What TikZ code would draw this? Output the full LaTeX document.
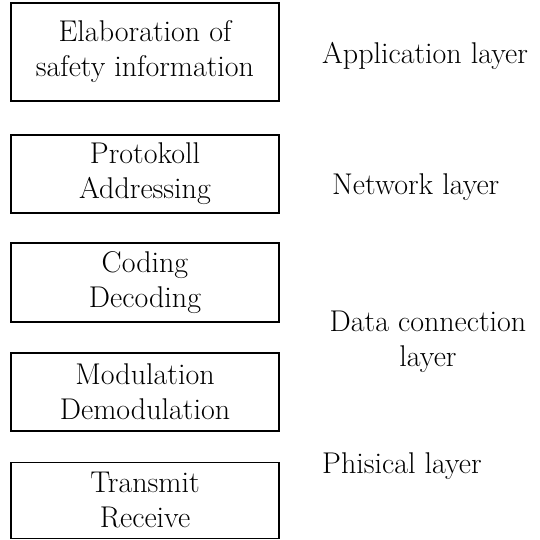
\documentclass[tikz,border=0pt]{standalone}
\begin{document}
\begin{tikzpicture}[x=1pt,y=-1pt,
  layerbox/.style={draw=black, line width=1.5pt, rectangle, minimum width=268pt,
    inner sep=0pt, align=center, font=\fontsize{30}{35}\selectfont},
  layerlabel/.style={inner sep=0pt, align=center, font=\fontsize{30}{35}\selectfont}]
  \useasboundingbox (0,0) rectangle (539,540);
  % protocol stack boxes
  \node[layerbox, minimum height=98pt] (elab) at (145,52) {Elaboration of\\safety information};
  \node[layerbox, minimum height=78pt] (prot) at (145,174) {Protokoll\\Addressing};
  \node[layerbox, minimum height=79pt] (cod)  at (145,282.5) {Coding\\Decoding};
  \node[layerbox, minimum height=78pt] (mod)  at (145,392) {Modulation\\Demodulation};
  \node[layerbox, minimum height=76pt] (trx)  at (145,500.5) {Transmit\\Receive};
  % layer names
  \node[layerlabel, anchor=west] (app)  at (322,56)  {Application layer};
  \node[layerlabel, anchor=west] (net)  at (332,187) {Network layer};
  \node[layerlabel] (data) at (428,342) {Data connection\\layer};
  \node[layerlabel, anchor=west] (phy) at (322,466) {Phisical layer};
\end{tikzpicture}
\end{document}
